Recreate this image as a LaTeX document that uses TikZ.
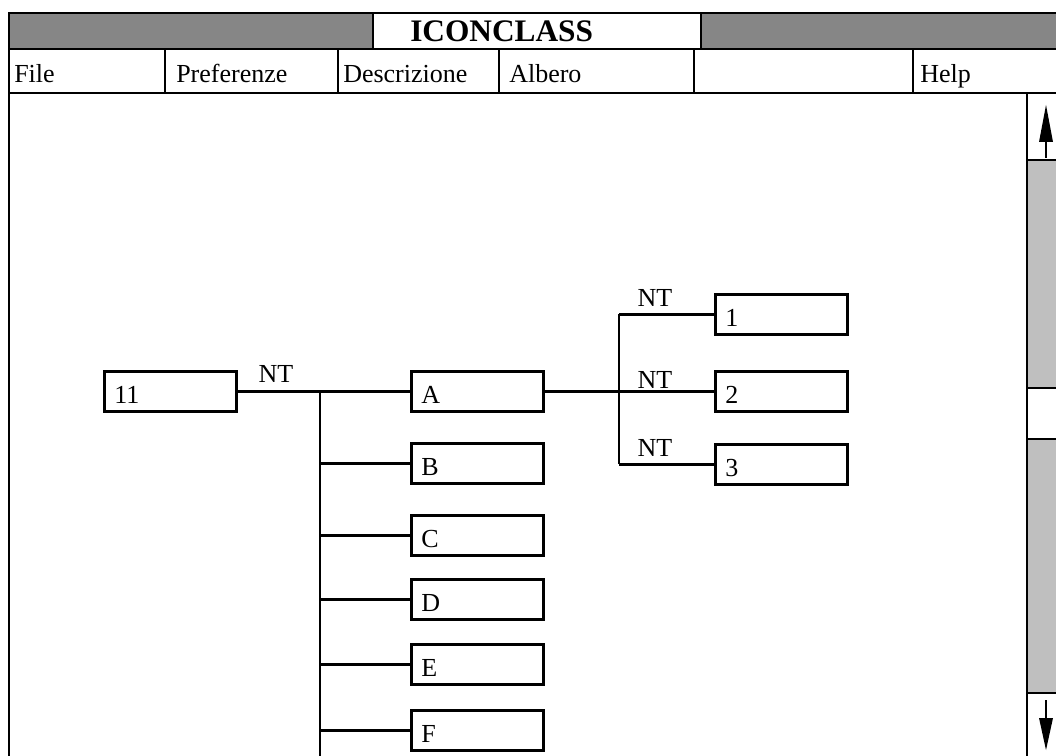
\documentclass[tikz,border=0pt]{standalone}
\usepackage{fontspec}
\setmainfont{Liberation Serif}

\tikzset{
  bordo/.style={line width=2.2pt},
  linea/.style={line width=1.9pt},
  casella/.style={draw, line width=1.9pt, anchor=north west, align=left,
    text width=84pt, inner xsep=7.5pt, inner ysep=0pt,
    text height=24pt, text depth=6pt},
  etichetta/.style={anchor=base, inner sep=0pt},
  voce/.style={anchor=base west, inner sep=0pt}
}

\newcommand{\casella}[4]{ % #1 nome, #2 x e #3 y dell'angolo in alto a sinistra
  \node[casella] (#1) at (#2,#3) {#4};
}
\newcommand{\frecciasu}[1]{ % #1 y della punta
  \fill (1046,#1) -- (1039,#1+37) -- (1053,#1+37) -- cycle;
  \draw[linea] (1046,#1+30) -- (1046,#1+53);
}
\newcommand{\frecciagiu}[1]{ % #1 y della punta
  \fill (1046,#1) -- (1039,#1-32) -- (1053,#1-32) -- cycle;
  \draw[linea] (1046,#1-25) -- (1046,#1-50);
}

\begin{document}
\begin{tikzpicture}[x=0.75pt, y=-0.75pt, font=\fontsize{19.5pt}{23pt}\selectfont]
    \clip (0,0) rectangle (1056,756);

    % barra del titolo
    \fill[gray!95] (9,13) rectangle (1060,49);
    \fill[white] (373,13) rectangle (701,49);
    \draw[bordo] (373,13) -- (373,49);
    \draw[bordo] (701,13) -- (701,49);
    \node[voce, font=\fontsize{23.5pt}{28pt}\selectfont\bfseries] (titolo) at (410,42) {ICONCLASS};

    % cornice e menu
    \draw[bordo] (1060,13) -- (9,13) -- (9,760);
    \draw[bordo] (9,49) -- (1060,49);
    \draw[bordo] (9,93) -- (1060,93);
    \foreach \x in {165,338,499,694,913} {
        \draw[bordo] (\x,49) -- (\x,93);
    }
    \node[voce] (file) at (14,83) {File};
    \node[voce] (pref) at (176,83) {Preferenze};
    \node[voce] (descr) at (343,83) {Descrizione};
    \node[voce] (albero) at (509,83) {Albero};
    \node[voce] (help) at (920,83) {Help};

    % barra di scorrimento
    \fill[gray!50] (1027,160) rectangle (1060,388);
    \fill[gray!50] (1027,439) rectangle (1060,693);
    \draw[bordo] (1027,93) -- (1027,760);
    \foreach \y in {160,388,439,693} {
        \draw[bordo] (1027,\y) -- (1060,\y);
    }
    \frecciasu{105}
    \frecciagiu{750}

    % albero
    \casella{undici}{103}{370}{11}
    \casella{A}{410}{370}{A}
    \casella{B}{410}{442}{B}
    \casella{C}{410}{514}{C}
    \casella{D}{410}{578}{D}
    \casella{E}{410}{643}{E}
    \casella{F}{410}{709}{F}
    \casella{uno}{714}{293}{1}
    \casella{due}{714}{370}{2}
    \casella{tre}{714}{443}{3}

    \coordinate (tronco) at (320,760);
    \coordinate (snodo) at (619,0);

    \draw[linea] (undici.east) -- (A.west);
    \draw[linea] (tronco |- undici.east) -- (tronco);
    \foreach \v in {B,C,D,E,F} {
        \draw[linea] (tronco |- \v.west) -- (\v.west);
    }
    \draw[linea] (A.east) -- (due.west);
    \draw[linea] (snodo |- uno.west) -- (snodo |- tre.west);
    \foreach \v in {uno,tre} {
        \draw[linea] (snodo |- \v.west) -- (\v.west);
    }

    \node[etichetta] (nt) at (276,382) {NT};
    \node[etichetta] (ntuno) at (655,306) {NT};
    \node[etichetta] (ntdue) at (655,388) {NT};
    \node[etichetta] (nttre) at (655,456) {NT};
\end{tikzpicture}
\end{document}
